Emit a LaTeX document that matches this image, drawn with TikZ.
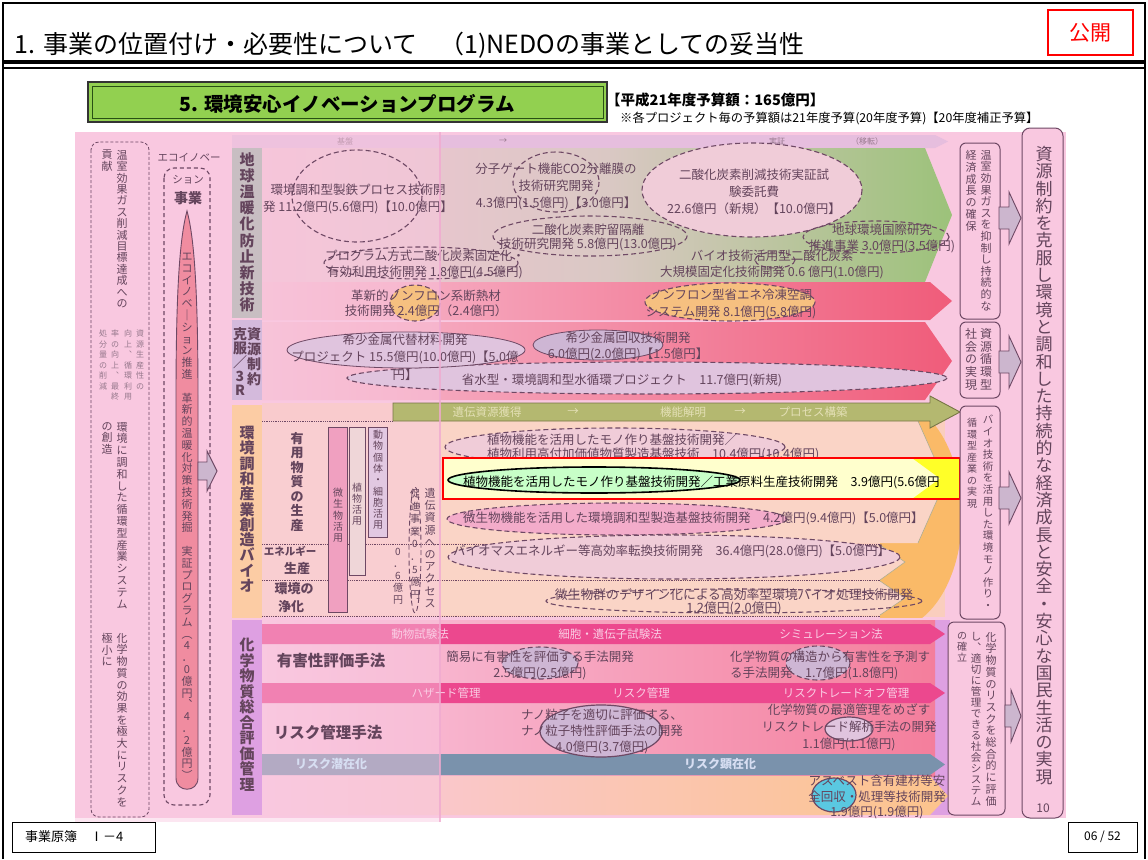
\documentclass[tikz,border=0pt]{standalone}
\usepackage{fontspec}
\setmainfont{Noto Sans CJK JP}
\usetikzlibrary{calc}
\makeatletter
\newcommand\tate[1]{\def\tate@res{}\def\tate@sep{}%
 \@tfor\tate@c:=#1\do{\edef\tate@res{\unexpanded\expandafter{\tate@res}\unexpanded\expandafter{\tate@sep}\unexpanded\expandafter{\tate@c}}\def\tate@sep{\\}}%
 \tate@res}
\makeatother
\definecolor{pinkbg}{RGB}{249,200,224}
\definecolor{txt}{RGB}{100,68,92}
\definecolor{dark}{RGB}{110,72,100}
\definecolor{greenbar}{RGB}{146,208,80}
\definecolor{darkgreen}{RGB}{40,80,20}
\definecolor{hdrband}{RGB}{230,190,222}
\definecolor{climL}{RGB}{244,196,214}
\definecolor{climM}{RGB}{218,200,196}
\definecolor{climR}{RGB}{156,194,122}
\definecolor{redL}{RGB}{247,192,212}
\definecolor{redR}{RGB}{240,92,122}
\definecolor{peachbg}{RGB}{250,206,190}
\definecolor{peachrow}{RGB}{250,212,198}
\definecolor{orangeA}{RGB}{250,186,104}
\definecolor{olive}{RGB}{180,184,112}
\definecolor{olivedk}{RGB}{120,118,70}
\definecolor{olivetxt}{RGB}{228,224,182}
\definecolor{magband}{RGB}{236,72,142}
\definecolor{magtxt}{RGB}{250,205,228}
\definecolor{steel}{RGB}{122,146,172}
\definecolor{steeltxt}{RGB}{215,222,242}
\definecolor{chemR}{RGB}{244,126,156}
\definecolor{orangeB}{RGB}{252,196,140}
\definecolor{violetlab}{RGB}{222,160,226}
\definecolor{graylab}{RGB}{200,190,194}
\definecolor{lavlab}{RGB}{212,186,220}
\definecolor{orangelab}{RGB}{252,204,164}
\definecolor{lavarrow}{RGB}{204,182,206}
\definecolor{spike}{RGB}{240,140,160}
\definecolor{ellpink}{RGB}{240,204,216}
\definecolor{ellorange}{RGB}{246,192,128}
\definecolor{elllav}{RGB}{206,182,212}
\definecolor{elllav2}{RGB}{224,196,222}
\definecolor{ellgreen}{RGB}{200,255,200}
\definecolor{ellcyan}{RGB}{90,200,225}
\definecolor{lighttxt}{RGB}{150,120,140}
\definecolor{pinkline}{RGB}{240,170,208}
\definecolor{yelL}{RGB}{255,255,205}
\definecolor{yelR}{RGB}{255,255,40}
\definecolor{box1}{RGB}{240,160,192}
\definecolor{box2}{RGB}{239,214,216}
\definecolor{box3}{RGB}{226,200,226}
\tikzset{
 tx/.style={inner sep=0pt, text=txt, align=center, font=\fontsize{12.5}{17}\selectfont},
 vt/.style={inner sep=0pt, anchor=north, align=center, text=txt},
 cattxt/.style={inner sep=0pt, anchor=north, align=center, text=txt},
 dell/.style={draw=dark, line width=1.1pt, dash pattern=on 5pt off 3pt},
 sell/.style={draw=dark, line width=0.8pt},
 rbox/.style={draw=dark, line width=1pt, rounded corners=6pt},
 barrow/.style={fill=lavarrow, draw=dark, line width=0.9pt},
 bandtxt/.style={inner sep=0pt, text=magtxt, font=\fontsize{11.5}{13}\selectfont},
 olivelab/.style={inner sep=0pt, text=olivetxt, font=\fontsize{11.5}{13}\selectfont},
 dotline/.style={draw=dark, densely dotted, line width=0.8pt},
}
\begin{document}
\begin{tikzpicture}[x=1pt,y=-1pt]
\useasboundingbox (0,0) rectangle (1148,859);
\fill[white] (0,0) rectangle (1148,859);

% frame and header
\draw[line width=1.5pt] (3,859) -- (3,3) -- (1145,3) -- (1145,859);
\draw[line width=4pt] (3,62) -- (1145,62);
\draw[line width=1.2pt] (3,68) -- (1145,68);
\node[anchor=west, inner sep=0, font=\fontsize{25}{27}\selectfont] (title) at (14,45) {1.\hspace{8pt}事業の位置付け・必要性について\hspace{22pt}（1)NEDOの事業としての妥当性};
\node[draw=red, line width=1.3pt, text=red, minimum width=85pt, minimum height=45pt, font=\fontsize{21}{24}\selectfont, inner sep=0] (kokai) at (1090.5,32.5) {公開};

% program bar
\draw[fill=greenbar, draw=black!80, line width=1.2pt] (88,82) rectangle (607,122);
\draw[darkgreen, line width=1pt] (92,86) rectangle (603,118);
\node[font=\bfseries\fontsize{19.5}{22}\selectfont, inner sep=0] (prog) at (347,104) {5. 環境安心イノベーションプログラム};
\node[anchor=west, font=\bfseries\fontsize{14.5}{17}\selectfont, inner sep=0] (budget) at (606,100) {【平成21年度予算額：165億円】};
\node[anchor=west, font=\fontsize{12.3}{14}\selectfont, inner sep=0] (note) at (620,118) {※各プロジェクト毎の予算額は21年度予算(20年度予算)【20年度補正予算】};

% main background
\fill[pinkbg] (75,132) rectangle (1066,818);

% header band
\fill[hdrband] (232,135) -- (935,135) -- (948,141.5) -- (935,148) -- (232,148) -- cycle;
\node[inner sep=0, text=lighttxt, font=\fontsize{8}{9}\selectfont] (h1) at (345,141.5) {基盤};
\node[inner sep=0, text=lighttxt, font=\fontsize{8}{9}\selectfont] (h2) at (503,141.5) {→};
\node[inner sep=0, text=lighttxt, font=\fontsize{8}{9}\selectfont] (h3) at (777,141.5) {実証};
\node[inner sep=0, text=lighttxt, font=\fontsize{8}{9}\selectfont] (h4) at (867,141.5) {（移転）};

% climate block
\shade[left color=climL, right color=climR, middle color=climM] (262,148) -- (925,148) -- (952,215) -- (925,282) -- (262,282) -- cycle;
\shade[left color=redL, right color=redR] (262,282) -- (930,282) -- (952,301) -- (930,320) -- (262,320) -- cycle;
% resource block
\shade[left color=redL, right color=redR] (262,322) -- (925,322) -- (952,361) -- (925,400) -- (262,400) -- cycle;

% bio block
\fill[peachbg] (262,403) rectangle (945,617);
\begin{scope}
\clip (880,403) rectangle (970,617);
\fill[orangeA] (890,515) ellipse [x radius=72, y radius=115];
\end{scope}
\fill[peachrow] (262,421) -- (918,421) -- (945,482) -- (918,543) -- (262,543) -- cycle;
\draw[olivedk!60, line width=0.6pt] (918,421) -- (945,482) -- (918,543);
\fill[peachrow] (262,545) -- (880,545) -- (905,562) -- (880,580) -- (262,580) -- cycle;
\draw[olivedk!60, line width=0.6pt] (880,545) -- (905,562) -- (880,580);
\fill[peachrow] (262,581) -- (880,581) -- (905,598) -- (880,615) -- (262,615) -- cycle;
\draw[olivedk!60, line width=0.6pt] (880,581) -- (905,598) -- (880,615);

% chem block
\fill[violetlab] (930,620) rectangle (950,815);
\shade[left color=pinkbg, right color=chemR] (262,620) rectangle (935,776);
\shade[left color=pinkbg, right color=orangeB] (262,776) -- (930,776) -- (948,796) -- (930,815) -- (262,815) -- cycle;
\fill[magband] (262,624) -- (930,624) -- (945,634) -- (930,644) -- (262,644) -- cycle;
\fill[magband] (262,683) -- (930,683) -- (945,693) -- (930,703) -- (262,703) -- cycle;
\fill[steel] (262,754) -- (930,754) -- (945,764.5) -- (930,775) -- (262,775) -- cycle;

% wash over left part
\fill[pinkbg, opacity=0.45] (75,132) rectangle (440,822);

% category labels
\fill[graylab] (232,148) rectangle (262,318);
\fill[lavlab] (232,320) rectangle (262,400);
\fill[orangelab] (232,405) rectangle (262,618);
\fill[violetlab] (232,620) rectangle (262,815);
\node[cattxt, font=\bfseries\fontsize{15}{16.2}\selectfont] (cat1) at (247,152) {\tate{地球温暖化防止新技術}};
\node[cattxt, font=\bfseries\fontsize{14}{15}\selectfont] (cat2a) at (254,327) {\tate{資源制約}};
\node[cattxt, font=\bfseries\fontsize{14}{14}\selectfont] (cat2b) at (240,327) {\tate{克服／3R}};
\node[cattxt, font=\bfseries\fontsize{15}{15.3}\selectfont] (cat3) at (247,426) {\tate{環境調和産業創造バイオ}};
\node[cattxt, font=\bfseries\fontsize{15}{15.5}\selectfont] (cat4) at (247,638) {\tate{化学物質総合評価管理}};

% ---- climate ellipses and texts
\draw[dell] (357,196) ellipse [x radius=65, y radius=46];
\draw[dell] (556,182) ellipse [x radius=43, y radius=30];
\draw[dell, fill=ellpink] (752,190) ellipse [x radius=110, y radius=47];
\draw[dell] (590,236) ellipse [x radius=97, y radius=20];
\draw[dell] (421,263) ellipse [x radius=97, y radius=16];
\draw[dell] (876,237) ellipse [x radius=73, y radius=16];
\draw[dell] (775,260) ellipse [x radius=20, y radius=8];
\draw[dell, fill=ellorange] (415,303) ellipse [x radius=25, y radius=18];
\draw[dell, fill=ellorange] (730,302) ellipse [x radius=85, y radius=19];
\node[tx] (t1) at (358,199) {環境調和型製鉄プロセス技術開\\発 11.2億円(5.6億円)【10.0億円】};
\node[tx] (t2) at (556,186) {分子ゲート機能CO2分離膜の\\技術研究開発\\4.3億円(1.5億円)【3.0億円】};
\node[tx] (t3) at (754,192) {二酸化炭素削減技術実証試\\験委託費\\22.6億円（新規）【10.0億円】};
\node[tx, font=\fontsize{12.5}{14}\selectfont] (t4) at (588,237) {二酸化炭素貯留隔離\\技術研究開発 5.8億円(13.0億円)};
\node[tx, font=\fontsize{12.5}{16}\selectfont] (t5) at (425,264) {プログラム方式二酸化炭素固定化・\\有効利用技術開発 1.8億円(4.5億円)};
\node[tx, font=\fontsize{12.5}{16}\selectfont] (t6) at (882,238) {地球環境国際研究\\推進事業 3.0億円(3.5億円)};
\node[tx, font=\fontsize{12.5}{16}\selectfont] (t7) at (772,264) {バイオ技術活用型二酸化炭素\\大規模固定化技術開発 0.6 億円(1.0億円)};
\node[tx, font=\fontsize{12.5}{15}\selectfont] (t8) at (426,303) {革新的ノンフロン系断熱材\\技術開発 2.4億円（2.4億円）};
\node[tx, font=\fontsize{12.5}{16.5}\selectfont] (t9) at (731,304) {ノンフロン型省エネ冷凍空調\\システム開発 8.1億円(5.8億円)};

% ---- resource
\draw[dell, fill=elllav2] (647,378) ellipse [x radius=300, y radius=16];
\draw[sell, fill=elllav2] (406,350) ellipse [x radius=119, y radius=18];
\draw[sell, fill=elllav] (598,345) ellipse [x radius=65, y radius=15];
\node[tx, font=\fontsize{12.5}{16.5}\selectfont] (t10) at (405,349) {希少金属代替材料開発\\プロジェクト 15.5億円(10.0億円)【5.0億};
\node[tx] (t10b) at (405,375) {円】};
\node[tx, font=\fontsize{12.5}{16}\selectfont] (t11) at (628,346) {希少金属回収技術開発\\6.0億円(2.0億円)【1.5億円】};
\node[tx] (t12) at (622,380) {省水型・環境調和型水循環プロジェクト　11.7億円(新規)};

% ---- bio
\draw[fill=olive, draw=olivedk, line width=0.9pt] (393,403) -- (930,403) -- (930,396) -- (960,412) -- (930,428) -- (930,421) -- (393,421) -- cycle;
\node[olivelab] (o1) at (487,412) {遺伝資源獲得};
\node[olivelab] (o2) at (573,412) {→};
\node[olivelab] (o3) at (683,412) {機能解明};
\node[olivelab] (o4) at (740,412) {→};
\node[olivelab] (o5) at (813,412) {プロセス構築};
\draw[dotline] (262,421) -- (393,421);
\draw[dotline] (262,544) -- (880,544);
\draw[dotline] (262,580.5) -- (880,580.5);
\draw[dotline] (262,616) -- (880,616);
\node[vt, font=\bfseries\fontsize{13}{14.5}\selectfont] (b1) at (297,432) {\tate{有用物質の生産}};
\node[inner sep=0, text=txt, font=\bfseries\fontsize{10.5}{12}\selectfont] (b2) at (290,551) {エネルギー};
\node[inner sep=0, text=txt, font=\bfseries\fontsize{13}{14}\selectfont] (b3) at (297,569) {生産};
\node[inner sep=0, text=txt, font=\bfseries\fontsize{13}{14}\selectfont] (b4) at (294,589) {環境の};
\node[inner sep=0, text=txt, font=\bfseries\fontsize{13}{14}\selectfont] (b5) at (291,607) {浄化};
\draw[fill=box1, draw=dark, line width=0.9pt] (328,427) rectangle (347,612);
\draw[fill=box2, draw=dark, line width=0.9pt] (349,427) rectangle (365,575);
\draw[fill=box3, draw=dark, line width=0.9pt] (368,427) rectangle (387,537);
\node[vt, font=\fontsize{10}{11.3}\selectfont] (v1) at (338,488) {\tate{微生物活用}};
\node[vt, font=\fontsize{10}{11}\selectfont] (v2) at (357,483) {\tate{植物活用}};
\node[vt, font=\fontsize{10}{11.3}\selectfont] (v3) at (378,430) {\tate{動物個体・細胞活用}};
\node[vt, font=\fontsize{10}{12}\selectfont] (v4) at (398,548) {\tate{0．6億円}};
\draw[dell, line width=0.9pt] (415,550) ellipse [x radius=6, y radius=63];
\node[vt, font=\fontsize{10}{12.6}\selectfont] (v5) at (415,489) {\tate{促進事業0．5億円}};
\node[vt, font=\fontsize{11}{12.2}\selectfont] (v6) at (430,488) {\tate{遺伝資源へのアクセス}};

\draw[dell, fill=ellpink] (615,447) ellipse [x radius=170, y radius=19];
\node[tx, align=left, anchor=west, font=\fontsize{12.5}{14}\selectfont] (t14) at (487,447) {植物機能を活用したモノ作り基盤技術開発／\\植物利用高付加価値物質製造基盤技術　10.4億円(10.4億円)};
\fill[yelL] (443,458) rectangle (960,499);
\fill[yelR] (912,458) -- (960,458) -- (960,499) -- (912,499) -- (940,478.5) -- cycle;
\draw[black, line width=1.6pt, fill=ellgreen] (594,480) ellipse [x radius=146, y radius=13];
\node[anchor=west, inner sep=0, font=\fontsize{12.5}{14}\selectfont] (t15) at (463,482) {植物機能を活用したモノ作り基盤技術開発／工業原料生産技術開発　3.9億円(5.6億円};
\draw[red, line width=2.5pt] (443,458) rectangle (960,499);
\draw[dell, fill=box1!70!pinkbg] (617,519) ellipse [x radius=170, y radius=16];
\node[tx, anchor=west] (t16) at (463,518) {微生物機能を活用した環境調和型製造基盤技術開発　4.2億円(9.4億円)【5.0億円】};
\draw[dell, fill=ellpink] (674,557) ellipse [x radius=226, y radius=22];
\node[tx, anchor=west] (t17) at (453,551) {バイオマスエネルギー等高効率転換技術開発　36.4億円(28.0億円)【5.0億円】};
\draw[dell] (734,601) ellipse [x radius=188, y radius=12];
\node[tx, font=\fontsize{12.8}{13}\selectfont] (t18) at (734,602) {微生物群のデザイン化による高効率型環境バイオ処理技術開発\\1.2億円(2.0億円)};

% ---- chem
\node[inner sep=0, text=txt, font=\bfseries\fontsize{15.5}{17}\selectfont] (c1) at (331,661) {有害性評価手法};
\node[inner sep=0, text=txt, font=\bfseries\fontsize{15.5}{17}\selectfont] (c2) at (328,733) {リスク管理手法};
\node[bandtxt] (m1) at (420,634) {動物試験法};
\node[bandtxt] (m2) at (610,634) {細胞・遺伝子試験法};
\node[bandtxt] (m3) at (831,634) {シミュレーション法};
\node[bandtxt] (m4) at (446,693) {ハザード管理};
\node[bandtxt] (m5) at (641,693) {リスク管理};
\node[bandtxt] (m6) at (846,693) {リスクトレードオフ管理};
\node[bandtxt, text=steeltxt, font=\bfseries\fontsize{12}{13}\selectfont] (s1) at (331,764) {リスク潜在化};
\node[bandtxt, text=steeltxt, font=\bfseries\fontsize{12}{13}\selectfont] (s2) at (720,764) {リスク顕在化};
\draw[dell, fill=elllav] (540,663) ellipse [x radius=38, y radius=16];
\draw[dell, fill=elllav] (818,663) ellipse [x radius=32, y radius=17];
\draw[sell, line width=1.2pt, fill=elllav] (601,731) ellipse [x radius=61, y radius=26];
\draw[sell, line width=1.2pt, fill=elllav2] (849,729) ellipse [x radius=24, y radius=12];
\draw[sell, line width=1.2pt, fill=ellcyan] (834,795) ellipse [x radius=22, y radius=17];
\node[tx, font=\fontsize{12.5}{16}\selectfont] (k1) at (540,665) {簡易に有害性を評価する手法開発\\2.5億円(2.5億円)};
\node[tx, align=left, anchor=west, font=\fontsize{12.5}{16}\selectfont] (k2) at (730,665) {化学物質の構造から有害性を予測す\\る手法開発　1.7億円(1.8億円)};
\node[tx, font=\fontsize{12.5}{16}\selectfont] (k3) at (602,731) {ナノ粒子を適切に評価する、\\ナノ粒子特性評価手法の開発\\4.0億円(3.7億円)};
\node[tx, font=\fontsize{12.5}{17}\selectfont] (k4) at (849,727) {化学物質の最適管理をめざす\\リスクトレード解析手法の開発\\1.1億円(1.1億円)};
\node[tx, font=\fontsize{12.5}{15.5}\selectfont] (k5) at (877,797) {アスベスト含有建材等安\\全回収・処理等技術開発\\1.9億円(1.9億円)};

% pink guide line
\draw[pinkline, line width=1.5pt, opacity=0.8] (440,132) -- (440,822);

% ---- left column A
\draw[dark, line width=0.8pt, densely dashed, rounded corners=8pt] (91,142) rectangle (149,817);
\node[vt, font=\fontsize{11}{11.4}\selectfont] (a1) at (122,150) {\tate{温室効果ガス削減目標達成への}};
\node[vt, font=\fontsize{11}{11.4}\selectfont] (a2) at (107,150) {\tate{貢献}};
\node[vt, text=lighttxt, font=\fontsize{8}{10.5}\selectfont] (a3) at (140,330) {\tate{資源生産性の}};
\node[vt, text=lighttxt, font=\fontsize{8}{10.5}\selectfont] (a4) at (128,330) {\tate{向上︑循環利用}};
\node[vt, text=lighttxt, font=\fontsize{8}{10.5}\selectfont] (a5) at (115,330) {\tate{率の向上︑最終}};
\node[vt, text=lighttxt, font=\fontsize{8}{10.5}\selectfont] (a6) at (103,330) {\tate{処分量の削減}};
\node[vt, font=\fontsize{11}{11.8}\selectfont] (a7) at (122,422) {\tate{環境に調和した循環型産業システム}};
\node[vt, font=\fontsize{11}{11.8}\selectfont] (a8) at (107,422) {\tate{の創造}};
\node[vt, font=\fontsize{11}{11.7}\selectfont] (a9) at (122,633) {\tate{化学物質の効果を極大にリスクを}};
\node[vt, font=\fontsize{11}{11.7}\selectfont] (a10) at (107,633) {\tate{極小に}};

% ---- left column B
\node[inner sep=0, text=txt, font=\fontsize{10.5}{12}\selectfont] (e1) at (189,158) {エコイノベー};
\draw[dark, line width=1.1pt, dash pattern=on 4pt off 3pt, rounded corners=10pt] (164,168) rectangle (210,805);
\node[inner sep=0, text=txt, font=\fontsize{10.5}{12}\selectfont] (e2) at (188,180) {ション};
\node[inner sep=0, text=txt, font=\bfseries\fontsize{14}{15}\selectfont] (e3) at (188,198) {事業};
\draw[fill=spike, draw=dark, line width=0.9pt] (187,211) .. controls (179,240) and (176,300) .. (176,400) -- (176,778) .. controls (176,793) and (198,793) .. (198,778) -- (198,400) .. controls (198,300) and (195,240) .. (187,211) -- cycle;
\node[vt, font=\fontsize{11}{11.8}\selectfont] (e4) at (187,253) {\tate{エコイノベ｜ション推進　革新的温暖化対策技術発掘　実証プログラム︵4．0億円︑4．2億円︶}};
\draw[barrow] (198,462) -- (207,462) -- (207,451) -- (217,471) -- (207,491) -- (207,480) -- (198,480) -- cycle;

% ---- right columns
\draw[rbox, fill=pinkbg] (960,143) rectangle (1000,319);
\draw[rbox, fill=pinkbg] (960,322) rectangle (1000,398);
\draw[rbox, fill=pinkbg] (960,406) rectangle (1000,619);
\draw[rbox, fill=pinkbg] (948,622) rectangle (1005,815);
\draw[rbox, fill=pinkbg, rounded corners=8pt] (1022,128) rectangle (1063,818);
\node[vt, font=\fontsize{11}{11.6}\selectfont] (r1) at (986,150) {\tate{温室効果ガスを抑制し持続的な}};
\node[vt, font=\fontsize{11}{11.8}\selectfont] (r2) at (971,150) {\tate{経済成長の確保}};
\node[vt, font=\fontsize{12}{12.8}\selectfont] (r3) at (986,328) {\tate{資源循環型}};
\node[vt, font=\fontsize{12}{12.8}\selectfont] (r4) at (971,328) {\tate{社会の実現}};
\node[vt, font=\fontsize{10.5}{11.6}\selectfont] (r5) at (988,415) {\tate{バイオ技術を活用した環境モノ作り・}};
\node[vt, font=\fontsize{10}{11.5}\selectfont] (r6) at (972,418) {\tate{循環型産業の実現}};
\node[vt, font=\fontsize{11}{11.7}\selectfont] (r7) at (991,632) {\tate{化学物質のリスクを総合的に評価}};
\node[vt, font=\fontsize{10.5}{11}\selectfont] (r8) at (976,632) {\tate{し︑適切に管理できる社会システム}};
\node[vt, font=\fontsize{10}{11}\selectfont] (r9) at (962,632) {\tate{の確立}};
\node[vt, font=\fontsize{17}{17.3}\selectfont] (goal) at (1044,146) {\tate{資源制約を克服し環境と調和した持続的な経済成長と安全・安心な国民生活の実現}};
\node[inner sep=0, text=txt, font=\fontsize{12}{13}\selectfont] (pg10) at (1043,808) {10};
\draw[barrow] (999,207) -- (1009,207) -- (1009,192) -- (1021,218) -- (1009,244) -- (1009,229) -- (999,229) -- cycle;
\draw[barrow] (999,351) -- (1009,351) -- (1009,336) -- (1021,362) -- (1009,388) -- (1009,373) -- (999,373) -- cycle;
\draw[barrow] (999,487) -- (1009,487) -- (1009,472) -- (1021,498) -- (1009,524) -- (1009,509) -- (999,509) -- cycle;
\draw[barrow] (1005,705) -- (1011,705) -- (1011,690) -- (1021,716) -- (1011,742) -- (1011,727) -- (1005,727) -- cycle;

% ---- footer
\node[draw=black, line width=0.9pt, minimum width=143pt, minimum height=30pt, inner sep=0] (f1) at (83.5,837) {};
\node[anchor=west, inner sep=0, font=\fontsize{13}{15}\selectfont] (f1t) at (25,837) {事業原簿　Ⅰ－4};
\node[draw=black, line width=0.9pt, minimum width=69pt, minimum height=30pt, inner sep=0, font=\fontsize{12}{14}\selectfont] (f2) at (1102.5,837) {06 / 52};
\end{tikzpicture}
\end{document}
